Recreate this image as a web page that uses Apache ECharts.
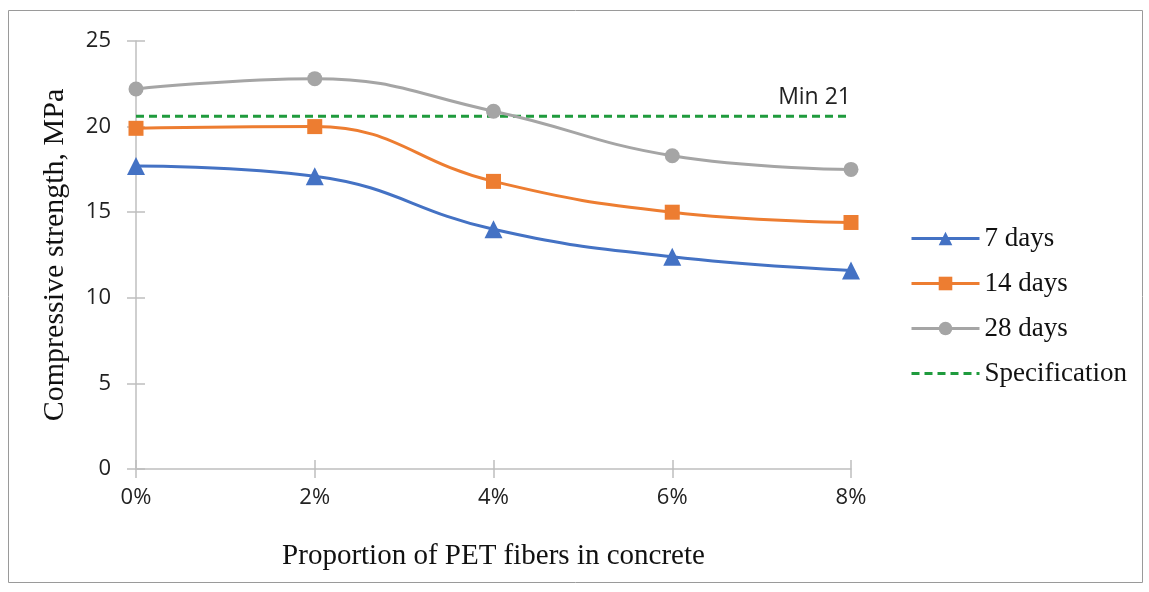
<!DOCTYPE html>
<html><head><meta charset="utf-8">
<script src="https://cdn.jsdelivr.net/npm/echarts@6/dist/echarts.min.js"></script>
<style>html,body{margin:0;padding:0;background:#fff}#c{width:1149px;height:592px}</style>
</head><body><div id="c"></div>
<script>
const categories = ['0%', '2%', '4%', '6%', '8%'];
const days7 = [17.7, 17.1, 14.0, 12.4, 11.6];
const days14 = [19.9, 20.0, 16.8, 15.0, 14.4];
const days28 = [22.2, 22.8, 20.9, 18.3, 17.5];
const specification = [20.6, 20.6, 20.6, 20.6, 20.6];
const yTicks = {min: 0, max: 25, interval: 5};
const seriesNames = ['7 days', '14 days', '28 days', 'Specification'];
const specLabel = 'Min 21';

const chart = echarts.init(document.getElementById('c'));
const serif = '"Liberation Serif", "DejaVu Serif", serif';
const sans = '"Open Sans", "Noto Sans", sans-serif';
const axisGray = '#BFBFBF';
const green = '#1F9B3D';
function lineSeries(name, data, color, symbol, size) {
  return {
    name, type: 'line', data, smooth: 0.45, symbol, symbolSize: size,
    lineStyle: {color, width: 3}, itemStyle: {color},
    emphasis: {disabled: true}, z: 3
  };
}
chart.setOption({
  animation: false,
  graphic: [{type: 'rect', shape: {x: 8.5, y: 10.5, width: 1134, height: 572}, style: {fill: 'none', stroke: '#9a9a9a', lineWidth: 1}}],
  grid: {left: 136, right: 298, top: 41, bottom: 123},
  legend: {
    orient: 'vertical', left: 905, top: 220, itemWidth: 68, itemHeight: 17, itemGap: 18,
    textStyle: {fontFamily: serif, fontSize: 27, color: '#111'},
    lineStyle: {width: 3},
    data: [seriesNames[0], seriesNames[1], seriesNames[2], {name: seriesNames[3], itemStyle: {opacity: 0}}]
  },
  xAxis: [{
    type: 'category', data: categories, boundaryGap: false,
    axisLine: {lineStyle: {color: axisGray, width: 1.5}},
    axisTick: {show: true, inside: false, length: 9, lineStyle: {color: axisGray, width: 1.5}},
    axisLabel: {fontFamily: sans, fontSize: 22, color: '#222', margin: 18},
    name: 'Proportion of PET fibers in concrete', nameLocation: 'middle', nameGap: 73,
    nameTextStyle: {fontFamily: serif, fontSize: 29, color: '#111'}
  }, {
    type: 'category', data: categories, boundaryGap: false, position: 'bottom',
    axisLine: {show: false}, axisLabel: {show: false},
    axisTick: {show: true, inside: true, length: 9, lineStyle: {color: axisGray, width: 1.5}}
  }],
  yAxis: [{
    type: 'value', min: yTicks.min, max: yTicks.max, interval: yTicks.interval,
    splitLine: {show: false},
    axisLine: {show: true, lineStyle: {color: axisGray, width: 1.5}},
    axisTick: {show: true, inside: false, length: 9, lineStyle: {color: axisGray, width: 1.5}},
    axisLabel: {fontFamily: sans, fontSize: 22, color: '#222', margin: 25},
    name: 'Compressive strength, MPa', nameLocation: 'middle', nameGap: 66, nameRotate: 90,
    nameTextStyle: {fontFamily: serif, fontSize: 30, color: '#111'}
  }, {
    type: 'value', min: yTicks.min, max: yTicks.max, interval: yTicks.interval, position: 'left',
    splitLine: {show: false}, axisLine: {show: false}, axisLabel: {show: false},
    axisTick: {show: true, inside: true, length: 9, lineStyle: {color: axisGray, width: 1.5}}
  }],
  series: [
    lineSeries(seriesNames[0], days7, '#4472C4', 'triangle', 18),
    lineSeries(seriesNames[1], days14, '#ED7D31', 'rect', 15),
    lineSeries(seriesNames[2], days28, '#A5A5A5', 'circle', 15),
    {
      name: seriesNames[3], type: 'line', symbol: 'none', z: 2,
      data: specification,
      lineStyle: {color: green, width: 3, type: [8, 5]}, itemStyle: {color: green},
      markPoint: {
        symbol: 'circle', symbolSize: 0, silent: true,
        data: [{coord: [categories[categories.length - 1], specification[specification.length - 1]]}],
        label: {show: true, formatter: specLabel, position: 'top', align: 'right', offset: [0, -2],
                fontFamily: sans, fontSize: 23, color: '#222'}
      },
      emphasis: {disabled: true}
    }
  ]
});
</script></body></html>
